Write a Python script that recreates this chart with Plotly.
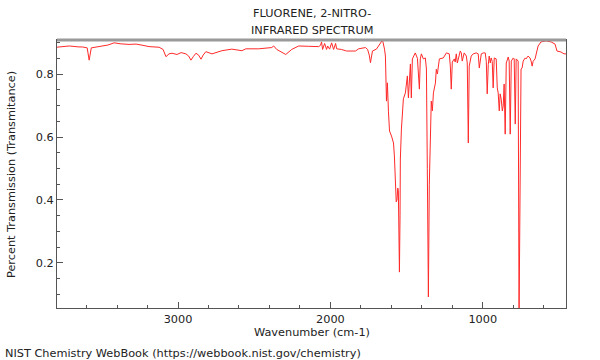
import plotly.graph_objects as go

# Wavenumber (cm-1) and transmittance
wavenumber = [
    3798, 3713, 3650, 3628, 3596, 3583, 3569, 3517, 3460, 3419, 3380, 3321, 3275, 3230, 3190,
    3124, 3098, 3079, 3059, 3039, 3007, 2980, 2948, 2930, 2915, 2900, 2882, 2865, 2849, 2835,
    2817, 2777, 2712, 2647, 2601, 2581, 2555, 2470, 2385, 2372, 2352, 2320, 2293, 2254, 2221,
    2208, 2143, 2077, 2065, 2058, 2051, 2044, 2038, 2025, 2018, 2005, 1992, 1979, 1966, 1959,
    1927, 1894, 1835, 1815, 1770, 1756, 1745, 1737, 1728, 1724, 1698, 1665, 1658, 1645, 1639,
    1632, 1626, 1619, 1612, 1599, 1586, 1580, 1573, 1568, 1563, 1558, 1554, 1550, 1547, 1543,
    1541, 1534, 1521, 1508, 1495, 1488, 1482, 1475, 1469, 1462, 1443, 1429, 1416, 1410, 1403,
    1390, 1377, 1370, 1364, 1357, 1351, 1344, 1338, 1331, 1324, 1311, 1305, 1298, 1285, 1259,
    1239, 1220, 1213, 1207, 1200, 1187, 1181, 1174, 1167, 1148, 1141, 1135, 1122, 1108, 1102,
    1095, 1089, 1076, 1063, 1043, 1030, 1023, 1010, 997, 984, 977, 971, 964, 958, 951,
    945, 938, 932, 925, 912, 905, 899, 892, 886, 879, 872, 866, 860, 853, 846,
    833, 827, 820, 813, 800, 794, 787, 781, 775, 768, 762, 758, 749, 742, 735,
    722, 716, 703, 690, 683, 676, 670, 657, 637, 618, 585, 552, 526, 513, 487,
    467, 454,
]
transmittance = [
    0.885, 0.889, 0.886, 0.886, 0.883, 0.844, 0.883, 0.887, 0.892, 0.899, 0.896, 0.894, 0.895, 0.891, 0.887,
    0.885, 0.878, 0.855, 0.864, 0.866, 0.862, 0.868, 0.864, 0.857, 0.844, 0.855, 0.866, 0.860, 0.847, 0.860,
    0.871, 0.864, 0.874, 0.879, 0.876, 0.874, 0.880, 0.880, 0.884, 0.889, 0.878, 0.870, 0.862, 0.878, 0.886,
    0.889, 0.888, 0.887, 0.891, 0.902, 0.878, 0.890, 0.897, 0.878, 0.889, 0.879, 0.899, 0.878, 0.897, 0.880,
    0.878, 0.873, 0.873, 0.880, 0.884, 0.878, 0.860, 0.836, 0.860, 0.873, 0.879, 0.905, 0.908, 0.879, 0.857,
    0.714, 0.772, 0.680, 0.619, 0.603, 0.581, 0.540, 0.420, 0.394, 0.400, 0.438, 0.430, 0.300, 0.171, 0.350,
    0.530, 0.625, 0.721, 0.740, 0.794, 0.724, 0.800, 0.832, 0.724, 0.848, 0.867, 0.850, 0.752, 0.848, 0.864,
    0.848, 0.851, 0.816, 0.500, 0.092, 0.450, 0.657, 0.714, 0.683, 0.740, 0.771, 0.815, 0.800, 0.848, 0.851,
    0.867, 0.864, 0.825, 0.752, 0.838, 0.848, 0.838, 0.864, 0.835, 0.873, 0.867, 0.841, 0.867, 0.857, 0.835,
    0.581, 0.825, 0.857, 0.864, 0.867, 0.864, 0.819, 0.864, 0.867, 0.867, 0.840, 0.737, 0.830, 0.857, 0.835,
    0.851, 0.840, 0.756, 0.851, 0.848, 0.756, 0.740, 0.683, 0.737, 0.720, 0.683, 0.698, 0.768, 0.609, 0.835,
    0.854, 0.841, 0.609, 0.841, 0.851, 0.848, 0.641, 0.848, 0.845, 0.841, 0.030, 0.400, 0.816, 0.819, 0.841,
    0.851, 0.848, 0.857, 0.851, 0.841, 0.825, 0.840, 0.848, 0.889, 0.902, 0.905, 0.902, 0.895, 0.873, 0.870,
    0.864, 0.864,
]

x_ticks = [3000, 2000, 1000]
y_ticks = [0.2, 0.4, 0.6, 0.8]

title_lines = ["FLUORENE, 2-NITRO-", "INFRARED SPECTRUM"]
x_title = "Wavenumber (cm-1)"
y_title = "Percent Transmission (Transmitance)"
footer = "NIST Chemistry WebBook (https://webbook.nist.gov/chemistry)"

FONT = "DejaVu Sans"
FS = 11.3
TXT = dict(family=FONT, size=FS, color="#222")

fig = go.Figure(
    go.Scatter(
        x=wavenumber, y=transmittance, mode="lines",
        line=dict(color="#ff2a2a", width=1), hoverinfo="skip",
    )
)

axis_common = dict(
    showgrid=False, zeroline=False, showline=True, linecolor="#555555", linewidth=1,
    mirror=True, ticks="inside", tickcolor="#555555", tickfont=TXT,
)

fig.update_xaxes(
    range=[3794, 454], tickvals=x_ticks, ticklen=6,
    minor=dict(dtick=200, tick0=0, ticklen=3, ticks="inside", tickcolor="#555555"),
    **axis_common,
)
fig.update_yaxes(
    range=[0.057, 0.908], tickvals=y_ticks, ticktext=[f"{v:.1f}" for v in y_ticks], ticklen=6,
    minor=dict(dtick=0.05, tick0=0, ticklen=3, ticks="inside", tickcolor="#555555"),
    **axis_common,
)

annotations = [
    dict(text=title_lines[0], x=0.5, y=1.1007, xref="paper", yref="paper", showarrow=False,
         xanchor="center", yanchor="middle", font=TXT),
    dict(text=title_lines[1], x=0.5, y=1.0373, xref="paper", yref="paper", showarrow=False,
         xanchor="center", yanchor="middle", font=TXT),
    dict(text=x_title, x=0.5, y=-0.0896, xref="paper", yref="paper", showarrow=False,
         xanchor="center", yanchor="middle", font=TXT),
    dict(text=y_title, x=-0.0904, y=0.5, xref="paper", yref="paper", showarrow=False,
         xanchor="center", yanchor="middle", textangle=-90, font=TXT),
    dict(text=footer, x=-0.1061, y=-0.168, xref="paper", yref="paper", showarrow=False,
         xanchor="left", yanchor="middle", font=TXT),
]

fig.update_layout(
    width=600, height=360,
    margin=dict(l=57, r=34, t=40, b=52),
    plot_bgcolor="white", paper_bgcolor="white",
    showlegend=False,
    annotations=annotations,
    shapes=[dict(type="line", xref="paper", yref="paper", x0=0, x1=1, y0=1, y1=1,
                 line=dict(color="#9a9a9a", width=3))],
)

fig.write_html(
    "out.html",
    config={"displayModeBar": False, "staticPlot": True},
    post_script="document.body.style.margin='0';document.body.style.padding='0';",
)
